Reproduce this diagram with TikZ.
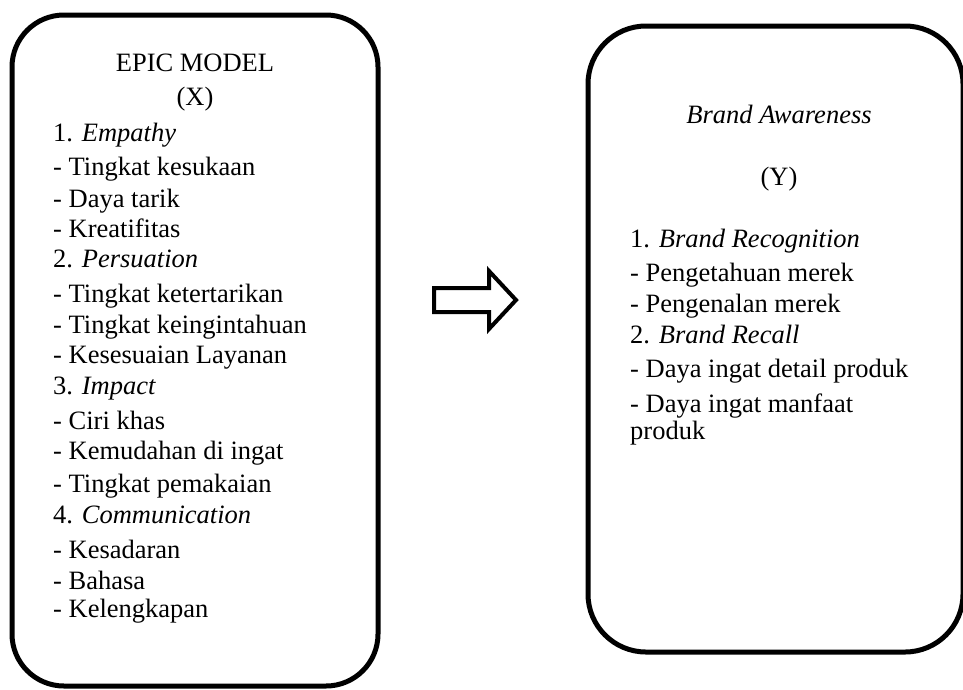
\documentclass[tikz,border=0pt]{standalone}
\usepackage{fontspec}
\setmainfont{Liberation Serif}
\begin{document}
\begin{tikzpicture}[x=1pt,y=-1pt,
  font=\fontsize{26.5}{30}\selectfont,
  box/.style={draw, line width=5pt, inner sep=0pt, outer sep=0pt},
  item/.style={anchor=base west, inner sep=0pt},
  ttl/.style={anchor=base, inner sep=0pt},
  blockarrow/.style={draw, line width=4pt, line join=miter}]
\useasboundingbox (0,0) rectangle (963,689);
% boxes
\node[box, rounded corners=52pt, minimum width=366pt, minimum height=671pt] (lbox) at (195,350.5) {};
\node[box, rounded corners=58pt, minimum width=375pt, minimum height=626pt] (rbox) at (775.5,339) {};
% left box text
\node[ttl] (ltitle) at (195,71) {EPIC MODEL};
\node[ttl] (lvar) at (195,105) {(X)};
\foreach \py/\ptext/\pname in {
  141/1. \textit{Empathy}/l1,
  175/- Tingkat kesukaan/l2,
  207/- Daya tarik/l3,
  237/- Kreatifitas/l4,
  267/2. \textit{Persuation}/l5,
  302/- Tingkat ketertarikan/l6,
  333/- Tingkat keingintahuan/l7,
  363/- Kesesuaian Layanan/l8,
  394/3. \textit{Impact}/l9,
  429/- Ciri khas/l10,
  459/- Kemudahan di ingat/l11,
  492/- Tingkat pemakaian/l12,
  523/4. \textit{Communication}/l13,
  558/- Kesadaran/l14,
  589/- Bahasa/l15,
  617/- Kelengkapan/l16}
  {\node[item] (\pname) at (53,\py) {\ptext};}
% right box text
\node[ttl] (rtitle) at (779,123) {\textit{Brand Awareness}};
\node[ttl] (rvar) at (779,185) {(Y)};
\foreach \py/\ptext/\pname in {
  247/1. \textit{Brand Recognition}/r1,
  281/- Pengetahuan merek/r2,
  312/- Pengenalan merek/r3,
  343/2. \textit{Brand Recall}/r4,
  377/- Daya ingat detail produk/r5,
  412/- Daya ingat manfaat/r6,
  439/produk/r7}
  {\node[item] (\pname) at (630,\py) {\ptext};}
% block arrow
\coordinate (a1) at (434,288);
\coordinate (a2) at (489,288);
\coordinate (a3) at (489,271);
\coordinate (a4) at (516,300);
\coordinate (a5) at (489,329);
\coordinate (a6) at (489,312);
\coordinate (a7) at (434,312);
\draw[blockarrow] (a1) -- (a2) -- (a3) -- (a4) -- (a5) -- (a6) -- (a7) -- cycle;
\end{tikzpicture}
\end{document}
